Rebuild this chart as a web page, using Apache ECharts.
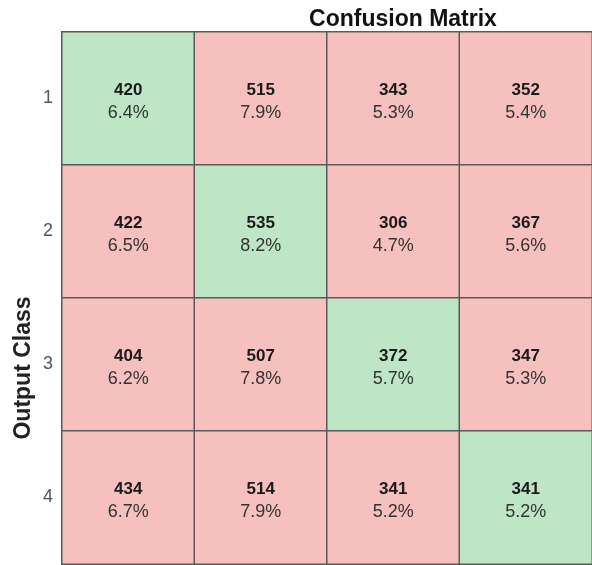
<!DOCTYPE html>
<html>
<head>
<meta charset="utf-8">
<style>
    html, body { margin: 0; padding: 0; background: #fff; }
    #container { width: 592px; height: 565px; }
</style>
</head>
<body>
<div id="container"></div>
<script src="https://cdn.jsdelivr.net/npm/echarts@6/dist/echarts.min.js"></script>
<script>
    var targetClass = ['1', '2', '3', '4'];
    var outputClass = ['1', '2', '3', '4'];
    // rows = output class, cols = target class
    var counts = [
        [420, 515, 343, 352],
        [422, 535, 306, 367],
        [404, 507, 372, 347],
        [434, 514, 341, 341]
    ];
    var percents = [
        ['6.4%', '7.9%', '5.3%', '5.4%'],
        ['6.5%', '8.2%', '4.7%', '5.6%'],
        ['6.2%', '7.8%', '5.7%', '5.3%'],
        ['6.7%', '7.9%', '5.2%', '5.2%']
    ];

    var green = '#bde5c6';
    var red = '#f6c0bf';

    var cells = [];
    for (var r = 0; r < counts.length; r++) {
        for (var c = 0; c < counts[r].length; c++) {
            cells.push({
                value: [c, r, counts[r][c]],
                pct: percents[r][c],
                itemStyle: { color: r === c ? green : red }
            });
        }
    }

    var myChart = echarts.init(document.getElementById('container'));
    var option = {
        animation: false,
        title: {
            text: 'Confusion Matrix',
            left: 398,
            top: 3,
            textAlign: 'center',
            textStyle: { fontFamily: 'Liberation Sans', fontSize: 23, fontWeight: 'bold', color: '#111' }
        },
        grid: { left: 62, top: 32, width: 532, height: 532 },
        xAxis: {
            type: 'category',
            data: targetClass,
            position: 'top',
            axisLine: { show: false },
            axisTick: { show: false },
            axisLabel: { show: false },
            splitLine: { show: false }
        },
        yAxis: {
            type: 'category',
            data: outputClass,
            inverse: true,
            axisLine: { show: false },
            axisTick: { show: false },
            axisLabel: { margin: 9, color: '#555', fontSize: 18, fontFamily: 'Liberation Sans' },
            splitLine: { show: false }
        },
        graphic: [{
            type: 'text',
            x: 24,
            y: 368,
            rotation: Math.PI / 2,
            style: {
                text: 'Output Class',
                fontFamily: 'Liberation Sans',
                fontSize: 23,
                fontWeight: 'bold',
                fill: '#222',
                align: 'center',
                verticalAlign: 'middle'
            }
        }],
        series: [{
            type: 'heatmap',
            data: cells,
            itemStyle: { borderColor: '#5a5a5a', borderWidth: 1.5 },
            emphasis: { disabled: true },
            label: {
                show: true,
                formatter: function (p) {
                    return '{a|' + p.value[2] + '}\n{b|' + p.data.pct + '}';
                },
                rich: {
                    a: { fontFamily: 'Liberation Sans', fontSize: 17, fontWeight: 'bold', color: '#1a1a1a', lineHeight: 23 },
                    b: { fontFamily: 'Liberation Sans', fontSize: 18, color: '#333', lineHeight: 23 }
                },
                offset: [0, 3]
            }
        }]
    };
    myChart.setOption(option);
</script>
</body>
</html>
